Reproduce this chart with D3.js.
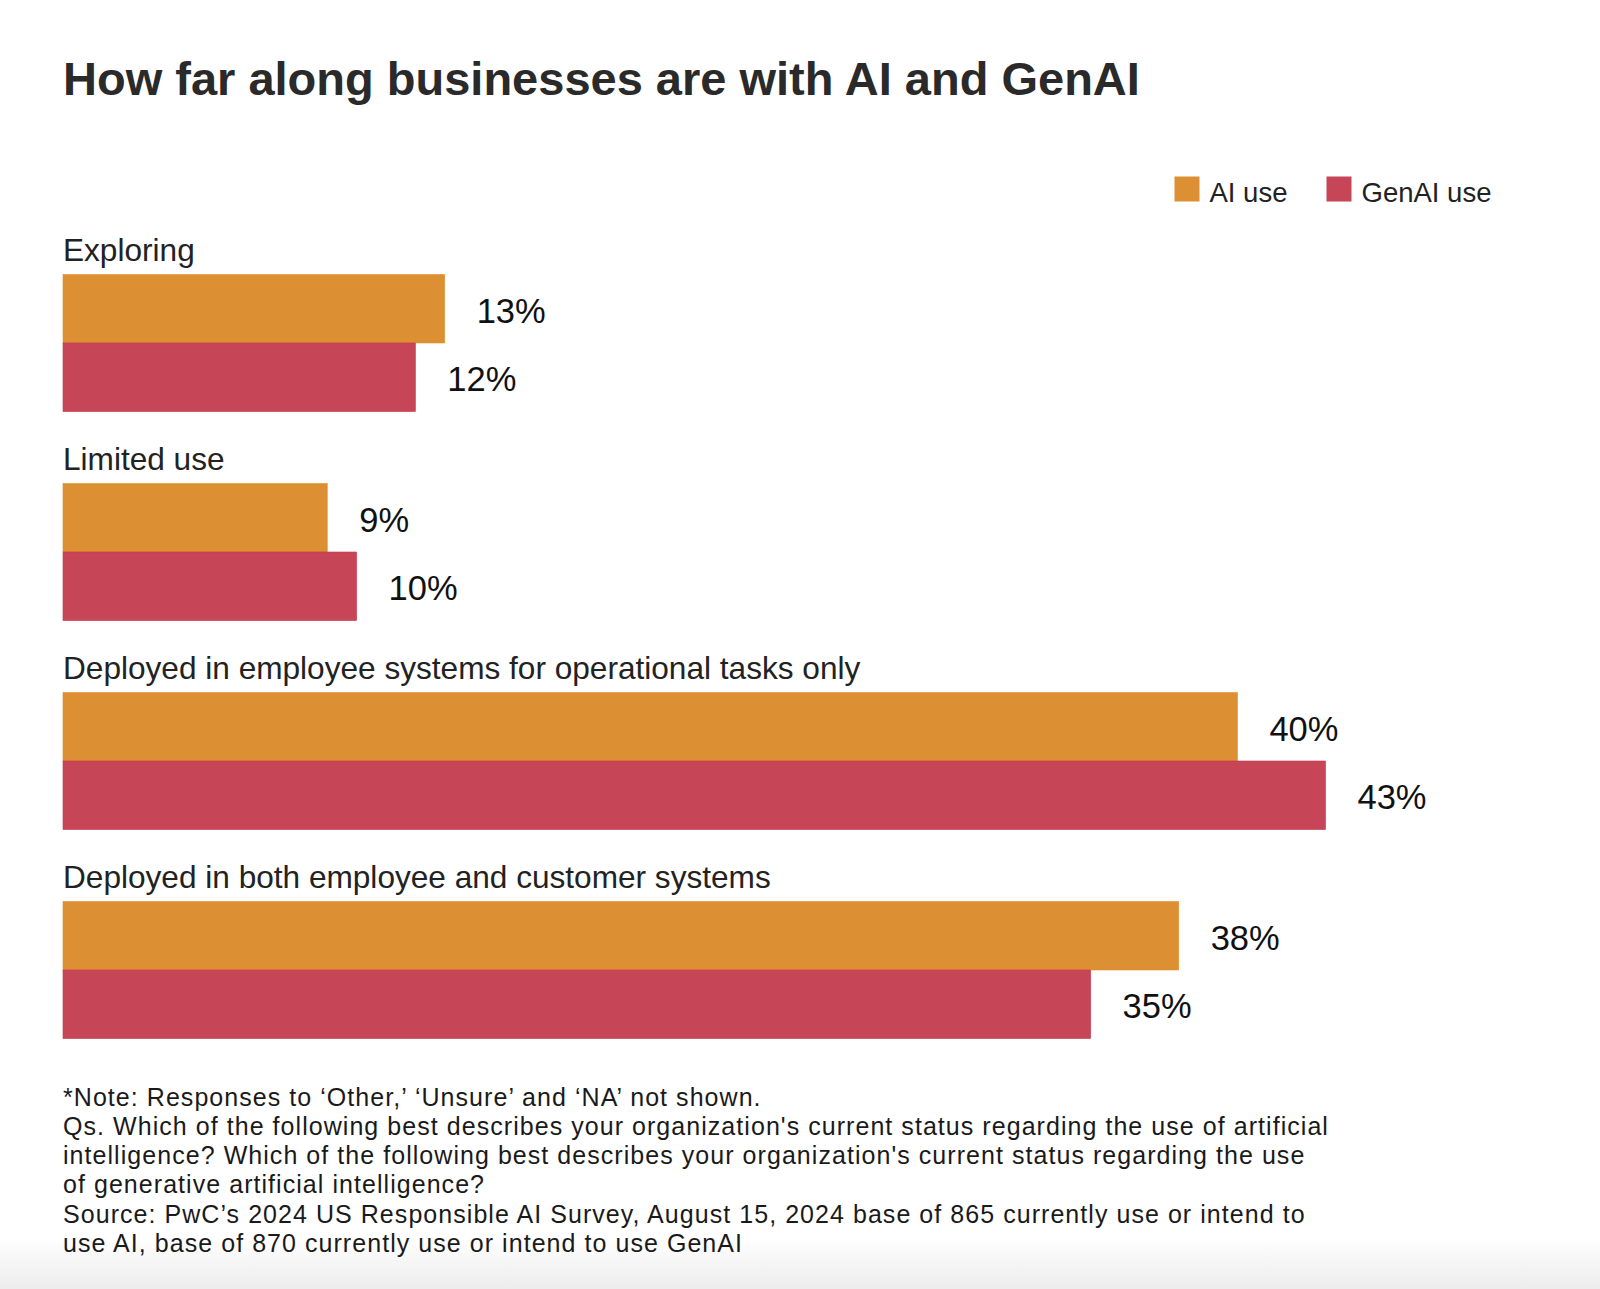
<!DOCTYPE html>
<html>
<head>
<meta charset="utf-8">
<script src="https://cdn.jsdelivr.net/npm/d3@7"></script>
<style>
	body { margin: 0; background: #fff; }
	svg { display: block; font-family: "Liberation Sans", Arial, Helvetica, sans-serif; }
</style>
</head>
<body>
<div id="chart"></div>
<script>
	// DATA
	var categories = [
		"Exploring",
		"Limited use",
		"Deployed in employee systems for operational tasks only",
		"Deployed in both employee and customer systems"
	];
	var series = ["AI use", "GenAI use"];
	var aiUse = [13, 9, 40, 38];
	var genAiUse = [12, 10, 43, 35];
	var footnotes = [
		"*Note: Responses to \u2018Other,\u2019 \u2018Unsure\u2019 and \u2018NA\u2019 not shown.",
		"Qs. Which of the following best describes your organization's current status regarding the use of artificial",
		"intelligence? Which of the following best describes your organization's current status regarding the use",
		"of generative artificial intelligence?",
		"Source: PwC\u2019s 2024 US Responsible AI Survey, August 15, 2024 base of 865 currently use or intend to",
		"use AI, base of 870 currently use or intend to use GenAI"
	];
	var title = "How far along businesses are with AI and GenAI";

	var colors = { "AI use": "#dc8f33", "GenAI use": "#c64658" };
	var strokes = { "AI use": "#e2902a", "GenAI use": "#c8324a" };

	var W = 1600, H = 1289;

	var svg = d3.select("#chart").append("svg")
		.attr("width", W)
		.attr("height", H);

	// soft gray fade at the bottom of the page
	var defs = svg.append("defs");
	var grad = defs.append("linearGradient")
		.attr("id", "fade")
		.attr("x1", 0).attr("y1", 0).attr("x2", 0).attr("y2", 1);
	grad.append("stop").attr("offset", "0%").attr("stop-color", "#ffffff");
	grad.append("stop").attr("offset", "100%").attr("stop-color", "#ececec");
	svg.append("rect")
		.attr("x", 0).attr("y", 1238)
		.attr("width", W).attr("height", H - 1238)
		.attr("fill", "url(#fade)");

	// title
	svg.append("text")
		.attr("x", 63)
		.attr("y", 95)
		.attr("font-size", 47)
		.attr("font-weight", "bold")
		.attr("fill", "#2a2a2a")
		.text(title);

	// legend
	var legend = svg.append("g").attr("class", "legend");
	var legendX = [1174.5, 1326.5];
	series.forEach(function(s, i) {
		legend.append("rect")
			.attr("x", legendX[i])
			.attr("y", 176.5)
			.attr("width", 25)
			.attr("height", 25)
			.attr("fill", colors[s]);
		legend.append("text")
			.attr("x", legendX[i] + 35)
			.attr("y", 201.5)
			.attr("font-size", 27.5)
			.attr("fill", "#222")
			.text(s);
	});

	// SCALES
	var x = d3.scaleLinear()
		.domain([0, 43])
		.range([63, 1325.5]);

	var y = d3.scaleBand()
		.domain(categories)
		.range([274.5, 1038.5])
		.paddingInner(0.3445)
		.paddingOuter(0);

	var ySub = d3.scaleBand()
		.domain(series)
		.range([0, y.bandwidth()])
		.padding(0);

	var rows = categories.map(function(c, i) {
		return { cat: c, values: [
			{ key: "AI use", value: aiUse[i] },
			{ key: "GenAI use", value: genAiUse[i] }
		] };
	});

	var groups = svg.append("g").attr("class", "data")
		.selectAll("g.group")
		.data(rows)
		.enter().append("g")
		.attr("class", "group")
		.attr("transform", function(d) { return "translate(0," + y(d.cat) + ")"; });

	groups.append("text")
		.attr("class", "cat_label")
		.attr("x", 63)
		.attr("y", -14)
		.attr("font-size", 31.6)
		.attr("fill", "#222")
		.text(function(d) { return d.cat; });

	groups.selectAll("rect.bar")
		.data(function(d) { return d.values; })
		.enter().append("rect")
		.attr("class", "bar")
		.attr("x", x(0))
		.attr("y", function(d) { return ySub(d.key); })
		.attr("width", function(d) { return x(d.value) - x(0); })
		.attr("height", ySub.bandwidth())
		.attr("fill", function(d) { return colors[d.key]; })
		.attr("stroke", function(d) { return strokes[d.key]; })
		.attr("stroke-width", 0.6);

	groups.selectAll("text.value")
		.data(function(d) { return d.values; })
		.enter().append("text")
		.attr("class", "value")
		.attr("x", function(d) { return x(d.value) + 32; })
		.attr("y", function(d) { return ySub(d.key) + ySub.bandwidth() / 2 + 14; })
		.attr("font-size", 34.5)
		.attr("fill", "#111")
		.text(function(d) { return d.value + "%"; });

	// footnotes
	svg.append("g").attr("class", "notes")
		.selectAll("text")
		.data(footnotes)
		.enter().append("text")
		.attr("x", 63)
		.attr("y", function(d, i) { return 1105.5 + i * 29.3; })
		.attr("font-size", 25)
		.attr("letter-spacing", 1.05)
		.attr("fill", "#1a1a1a")
		.text(function(d) { return d; });
</script>
</body>
</html>
